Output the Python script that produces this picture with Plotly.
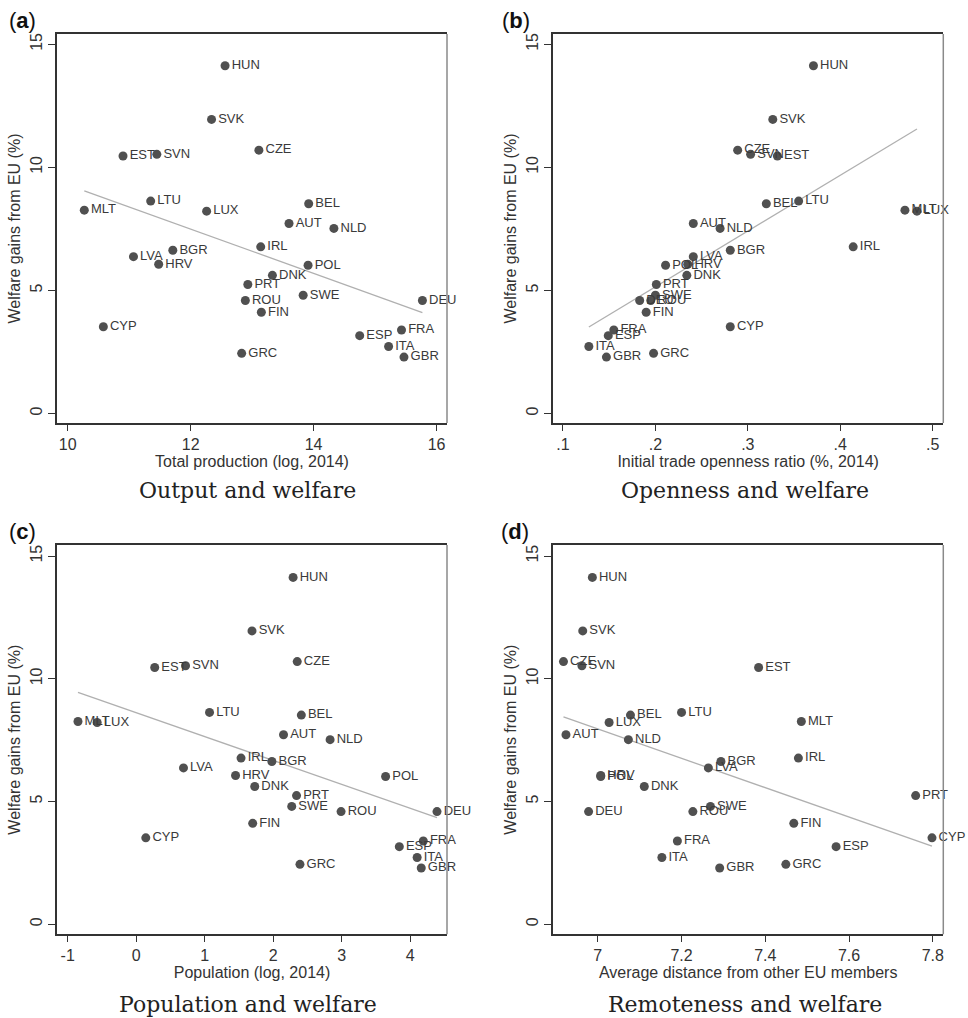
import numpy as np
import plotly.graph_objects as go

countries = ["HUN","SVK","CZE","EST","SVN","LTU","MLT","LUX","BEL","AUT","NLD","IRL","BGR","LVA",
             "HRV","POL","DNK","PRT","SWE","ROU","DEU","FIN","CYP","FRA","ESP","ITA","GRC","GBR"]
welfare = [14.13,11.95,10.70,10.46,10.53,8.63,8.26,8.22,8.52,7.72,7.52,6.77,6.63,6.37,
           6.06,6.02,5.61,5.24,4.80,4.59,4.59,4.11,3.52,3.39,3.16,2.72,2.44,2.29]
production = [12.56,12.34,13.11,10.90,11.45,11.35,10.27,12.26,13.92,13.60,14.33,13.14,11.71,11.07,
              11.48,13.91,13.33,12.93,13.83,12.89,15.77,13.15,10.58,15.43,14.75,15.22,12.83,15.47]
openness = [0.371,0.327,0.289,0.332,0.303,0.355,0.470,0.483,0.320,0.241,0.270,0.414,0.281,0.241,
            0.235,0.211,0.234,0.201,0.200,0.195,0.183,0.190,0.281,0.155,0.149,0.128,0.198,0.147]
population = [2.29,1.69,2.35,0.27,0.72,1.07,-0.85,-0.57,2.41,2.15,2.83,1.53,1.98,0.69,
              1.45,3.64,1.73,2.34,2.27,2.99,4.39,1.70,0.14,4.19,3.84,4.10,2.39,4.16]
distance = [6.987,6.964,6.918,7.384,6.962,7.200,7.486,7.027,7.078,6.924,7.073,7.479,7.294,7.264,
            7.007,7.007,7.111,7.759,7.269,7.227,6.978,7.468,7.798,7.190,7.569,7.153,7.449,7.291]

x_titles = ["Total production (log, 2014)", "Initial trade openness ratio (%, 2014)",
            "Population (log, 2014)", "Average distance from other EU members"]
subtitles = ["Output and welfare", "Openness and welfare", "Population and welfare", "Remoteness and welfare"]
letters = ["a", "b", "c", "d"]
x_ticks = [[10, 12, 14, 16], [0.1, 0.2, 0.3, 0.4, 0.5], [-1, 0, 1, 2, 3, 4], [7, 7.2, 7.4, 7.6, 7.8]]
x_ticktext = [["10", "12", "14", "16"], [".1", ".2", ".3", ".4", ".5"],
              ["-1", "0", "1", "2", "3", "4"], ["7", "7.2", "7.4", "7.6", "7.8"]]
y_ticks = [0, 5, 10, 15]

W, H = 968, 1018
xseries = [production, openness, population, distance]
x_ranges = [[9.826, 16.17], [0.0892, 0.5115], [-1.156, 4.536], [6.893, 7.825]]
y_ranges = [[-0.39, 15.42], [-0.39, 15.42], [-0.41, 15.45], [-0.41, 15.45]]
xdom = [[57 / W, 447 / W], [553 / W, 943.3 / W], [57 / W, 447 / W], [553 / W, 943.3 / W]]
ydom = [[1 - 423 / H, 1 - 34 / H], [1 - 423 / H, 1 - 34 / H],
        [1 - 934.3 / H, 1 - 545 / H], [1 - 934.3 / H, 1 - 545 / H]]
sub_pos = [(248, 490), (745, 490), (248, 1004), (745, 1004)]
letter_pos = [(22, 21), (516, 21), (22, 531), (515, 531)]

fig = go.Figure()
layout = dict(width=W, height=H, margin=dict(l=0, r=0, t=0, b=0),
              paper_bgcolor="white", plot_bgcolor="white", showlegend=False,
              font=dict(family="Liberation Sans, Arial", color="#333333"))
annotations = []
shapes = []
for i in range(4):
    xs = np.array(xseries[i])
    ys = np.array(welfare)
    suffix = "" if i == 0 else str(i + 1)
    xa, ya = "x" + suffix, "y" + suffix
    # fitted line
    b, a = np.polyfit(xs, ys, 1)
    lx = np.array([xs.min(), xs.max()])
    fig.add_trace(go.Scatter(x=lx, y=a + b * lx, mode="lines",
                             line=dict(color="#b0b0b0", width=1.3), xaxis=xa, yaxis=ya,
                             hoverinfo="skip"))
    fig.add_trace(go.Scatter(x=xs, y=ys, mode="markers+text", text=countries,
                             textposition="middle right",
                             textfont=dict(family="Liberation Sans, Arial", size=13, color="#3a3a3a"),
                             marker=dict(size=9, color="#505050"),
                             xaxis=xa, yaxis=ya, cliponaxis=False))
    layout["xaxis" + suffix] = dict(
        domain=xdom[i], range=x_ranges[i], anchor=ya, showgrid=False, zeroline=False,
        showline=True, linecolor="#333333", linewidth=1.5, mirror=True,
        ticks="outside", ticklen=6, tickwidth=1, tickcolor="#333333",
        tickvals=x_ticks[i], ticktext=x_ticktext[i],
        tickfont=dict(size=16, color="#333333"),
        title=dict(text=x_titles[i], font=dict(size=16, color="#333333"), standoff=1))
    layout["yaxis" + suffix] = dict(
        domain=ydom[i], range=y_ranges[i], anchor=xa, showgrid=False, zeroline=False,
        showline=True, linecolor="#333333", linewidth=1.5,
        ticks="outside", ticklen=7, tickwidth=1, tickcolor="#333333",
        tickvals=y_ticks, tickangle=-90,
        tickfont=dict(size=16, color="#333333"),
        title=dict(text="Welfare gains from EU (%)", font=dict(size=16, color="#333333"), standoff=3))
    shapes.append(dict(type="line", xref="paper", yref="paper",
                       x0=xdom[i][1], x1=xdom[i][1], y0=ydom[i][0], y1=ydom[i][1],
                       line=dict(color="#8a8a8a", width=1.5)))
    sx, sy = sub_pos[i]
    annotations.append(dict(text=subtitles[i], x=sx / W, y=1 - sy / H, xref="paper", yref="paper",
                            showarrow=False, xanchor="center", yanchor="middle",
                            font=dict(family="DejaVu Serif", size=22, color="#222222")))
    lx_, ly_ = letter_pos[i]
    annotations.append(dict(text="(<b>" + letters[i] + "</b>)", x=lx_ / W, y=1 - ly_ / H,
                            xref="paper", yref="paper", showarrow=False,
                            xanchor="center", yanchor="middle",
                            font=dict(family="Liberation Sans, Arial", size=22, color="#111111")))
layout["annotations"] = annotations
layout["shapes"] = shapes
fig.update_layout(**layout)
fig.write_html("out.html", config={"displayModeBar": False},
               post_script="document.body.style.margin='0';document.body.style.overflow='hidden';")
